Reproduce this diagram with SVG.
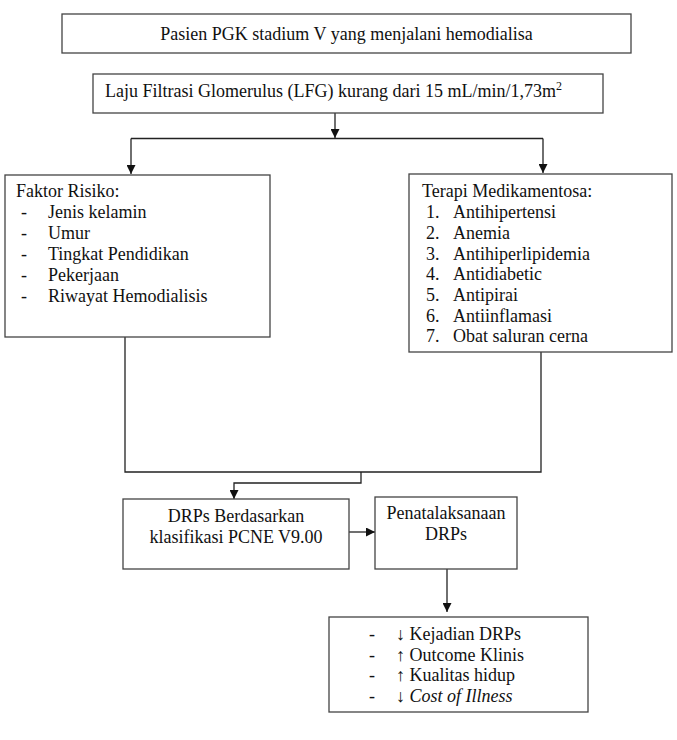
<svg xmlns="http://www.w3.org/2000/svg" width="677" height="740" viewBox="0 0 677 740">
<style>
.box{fill:#fff;stroke:#444;stroke-width:1.3}
.ln{fill:none;stroke:#222;stroke-width:1.3}
text{font-family:"Liberation Serif","Times New Roman",serif;font-size:18px;fill:#111}
.c{text-anchor:middle}
</style>
<defs>
<marker id="ah" viewBox="0 0 10 10" refX="10" refY="5" markerWidth="9" markerHeight="9" markerUnits="userSpaceOnUse" orient="auto">
<path d="M0,0 L10,5 L0,10 z" fill="#111"/>
</marker>
</defs>
<rect width="677" height="740" fill="#fff"/>
<g id="connectors">
<path class="ln" d="M335,113 V138" marker-end="url(#ah)"/>
<path class="ln" d="M131,138.5 H543"/>
<path class="ln" d="M131,138.5 V174" marker-end="url(#ah)"/>
<path class="ln" d="M543,138.5 V173" marker-end="url(#ah)"/>
<path class="ln" d="M125,337 V472 H541 V352"/>
<path class="ln" d="M361,472 V483 H234 V499" marker-end="url(#ah)"/>
<path class="ln" d="M349,532 H375" marker-end="url(#ah)"/>
<path class="ln" d="M447,569 V612" marker-end="url(#ah)"/>
</g>
<g id="n1">
<rect class="box" x="62" y="14" width="569" height="39"/>
<text class="c" x="346.5" y="40">Pasien PGK stadium V yang menjalani hemodialisa</text>
</g>
<g id="n2">
<rect class="box" x="93" y="74" width="510" height="39"/>
<text x="105" y="97">Laju Filtrasi Glomerulus (LFG) kurang dari 15 mL/min/1,73m<tspan dy="-7" font-size="12">2</tspan></text>
</g>
<g id="n3">
<rect class="box" x="5" y="175" width="265" height="162"/>
<text x="16" y="197">Faktor Risiko:</text>
<text x="21" y="218">-</text><text x="48" y="218">Jenis kelamin</text>
<text x="21" y="239">-</text><text x="48" y="239">Umur</text>
<text x="21" y="260">-</text><text x="48" y="260">Tingkat Pendidikan</text>
<text x="21" y="281">-</text><text x="48" y="281">Pekerjaan</text>
<text x="21" y="302">-</text><text x="48" y="302">Riwayat Hemodialisis</text>
</g>
<g id="n4">
<rect class="box" x="409" y="174" width="263" height="178"/>
<text x="422" y="197">Terapi Medikamentosa:</text>
<text x="426" y="218">1.</text><text x="453" y="218">Antihipertensi</text>
<text x="426" y="239">2.</text><text x="453" y="239">Anemia</text>
<text x="426" y="259.5">3.</text><text x="453" y="259.5">Antihiperlipidemia</text>
<text x="426" y="280">4.</text><text x="453" y="280">Antidiabetic</text>
<text x="426" y="301">5.</text><text x="453" y="301">Antipirai</text>
<text x="426" y="321.5">6.</text><text x="453" y="321.5">Antiinflamasi</text>
<text x="426" y="342">7.</text><text x="453" y="342">Obat saluran cerna</text>
</g>
<g id="n5">
<rect class="box" x="123" y="499" width="226" height="70"/>
<text class="c" x="236" y="522">DRPs Berdasarkan</text>
<text class="c" x="236" y="543">klasifikasi PCNE V9.00</text>
</g>
<g id="n6">
<rect class="box" x="375" y="497" width="142" height="72"/>
<text class="c" x="446" y="519">Penatalaksanaan</text>
<text class="c" x="446" y="540">DRPs</text>
</g>
<g id="n7">
<rect class="box" x="329" y="617" width="259" height="95"/>
<text x="369" y="640">-</text><text x="396" y="640">↓ Kejadian DRPs</text>
<text x="369" y="661">-</text><text x="396" y="661">↑ Outcome Klinis</text>
<text x="369" y="681">-</text><text x="396" y="681">↑ Kualitas hidup</text>
<text x="369" y="702">-</text><text x="396" y="702">↓ <tspan font-style="italic">Cost of Illness</tspan></text>
</g>
</svg>
